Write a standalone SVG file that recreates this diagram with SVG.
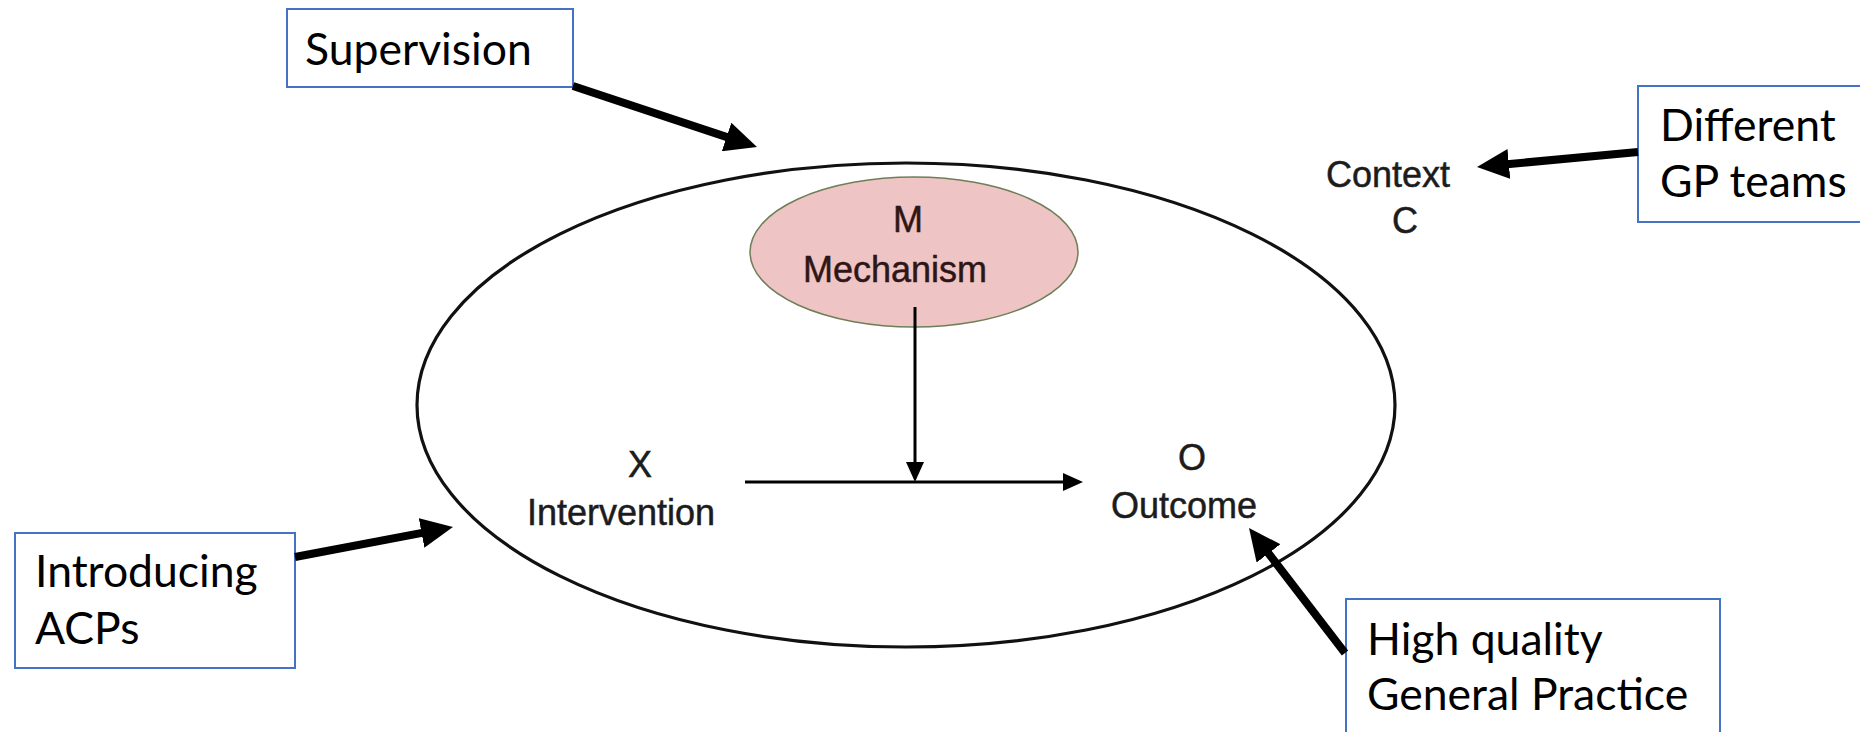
<svg xmlns="http://www.w3.org/2000/svg" width="1860" height="732" viewBox="0 0 1860 732">
<style>
.box{fill:#fff;stroke:#4472c4;stroke-width:2}
.lbl{font-family:Lato,"Liberation Sans",sans-serif;font-size:44.5px;fill:#000}
.dg{font-family:"Liberation Sans",Arial,sans-serif;font-size:36px;fill:#1c1c1c;stroke:#1c1c1c;stroke-width:0.5;text-anchor:middle}
.mt{fill:#2e1616;stroke:#2e1616}
.thick{stroke:#000;stroke-width:8;fill:none;marker-end:url(#bigHead)}
.thin{stroke:#000;stroke-width:3;fill:none;marker-end:url(#smallHead)}
</style>
<defs>
<marker id="bigHead" markerUnits="userSpaceOnUse" viewBox="0 0 32 30" markerWidth="32" markerHeight="30" refX="2" refY="15" orient="auto">
<path d="M0,0 L32,15 L0,30 z" fill="#000"/>
</marker>
<marker id="smallHead" markerUnits="userSpaceOnUse" viewBox="0 0 20 18" markerWidth="20" markerHeight="18" refX="2" refY="9" orient="auto">
<path d="M0,0 L20,9 L0,18 z" fill="#000"/>
</marker>
</defs>
<rect width="1860" height="732" fill="#fff"/>

<g id="context">
<ellipse cx="906" cy="405" rx="489" ry="242" fill="none" stroke="#111" stroke-width="3.2"/>
<text class="dg" x="1388" y="187">Context</text>
<text class="dg" x="1405" y="233">C</text>
</g>

<g id="mechanism">
<ellipse cx="914" cy="252" rx="164" ry="75" fill="#efc4c4" stroke="#6e7f58" stroke-width="1.5"/>
<text class="dg mt" x="908" y="232">M</text>
<text class="dg mt" x="895" y="282">Mechanism</text>
</g>

<g id="intervention">
<text class="dg" x="640" y="477">X</text>
<text class="dg" x="621" y="525">Intervention</text>
</g>

<g id="outcome">
<text class="dg" x="1192" y="470">O</text>
<text class="dg" x="1184" y="518">Outcome</text>
</g>

<g id="supervision">
<rect class="box" x="287" y="9" width="286" height="78"/>
<text class="lbl" x="305" y="65">Supervision</text>
</g>

<g id="different-gp-teams">
<rect class="box" x="1638" y="86" width="240" height="136"/>
<text class="lbl" x="1660" y="141">Different</text>
<text class="lbl" x="1660" y="197">GP teams</text>
</g>

<g id="introducing-acps">
<rect class="box" x="15" y="533" width="280" height="135"/>
<text class="lbl" x="35" y="587">Introducing</text>
<text class="lbl" x="35" y="644">ACPs</text>
</g>

<g id="high-quality">
<rect class="box" x="1346" y="599" width="374" height="160"/>
<text class="lbl" x="1367" y="655">High quality</text>
<text class="lbl" x="1367" y="710">General Practice</text>
</g>

<g id="connectors">
<line class="thick" x1="573" y1="86" x2="728.5" y2="137.6"/>
<line class="thick" x1="1638" y1="152" x2="1506.9" y2="164.2"/>
<line class="thick" x1="295" y1="557" x2="423.5" y2="532.6"/>
<line class="thick" x1="1345" y1="653" x2="1267.3" y2="551.8"/>
<line class="thin" x1="915" y1="307" x2="915" y2="464"/>
<line class="thin" x1="745" y1="482" x2="1065" y2="482"/>
</g>
</svg>
